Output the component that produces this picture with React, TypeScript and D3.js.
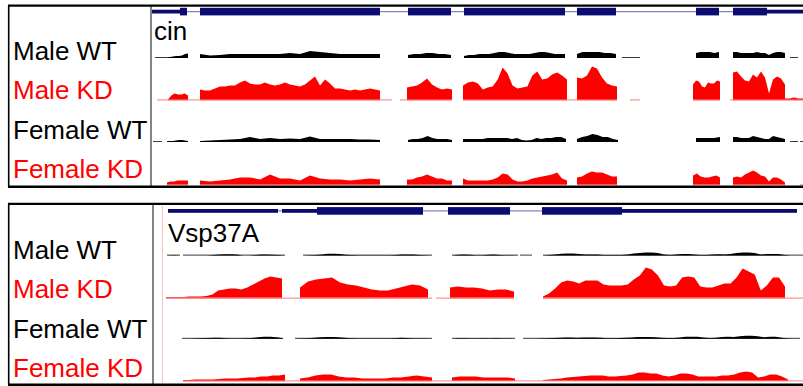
import React from 'react';
import * as d3 from 'd3';

type Seg = [number, number, number[]];
type Range = [number, number];

// ---------- labels ----------
const trackNames = ['Male WT', 'Male KD', 'Female WT', 'Female KD'];
const trackIsKD = [false, true, false, true];

// ---------- gene models (locus units) ----------
const cinSpan: Range = [152, 803];
const cinUTR: Range[] = [[152, 180], [767, 803]];
const cinExons: Range[] = [[180, 187], [200, 380], [408, 451], [464, 565], [577, 616], [696, 719], [733, 767]];

const vspSpan: Range = [168, 797];
const vspUTR: Range[] = [[168, 278], [282, 317], [622, 797]];
const vspExons: Range[] = [[317, 423], [448, 510], [542, 622]];

// ---------- cin coverage ----------
const cinMaleWT: Seg[] = [
  [155, 188, [0, 0, 0, 0, 0, 1, 1.5, 2, 2, 2.5, 4, 4.5]],
  [200, 380, [4, 2.5, 3, 4, 4, 4, 4, 4, 4, 5, 4, 7, 6, 5, 4, 4, 4, 4, 4]],
  [408, 451, [3, 4, 4, 5, 5, 4, 4, 3]],
  [464, 565, [2, 3, 3, 4, 4, 4, 5, 6, 6, 5, 4, 4, 4, 4, 5, 6, 6, 5, 4, 4, 4]],
  [577, 616, [4, 6, 6, 6, 6, 5, 5, 4]],
  [696, 719, [5, 6, 6, 6, 5, 6]],
  [733, 785, [6, 6, 5, 5, 5, 5, 6, 5, 5, 3, 5, 6, 6, 5]],
];
const cinMaleWTZero: Range[] = [[622, 640], [790, 798]];

const cinMaleKD: Seg[] = [
  [168, 188, [0, 4, 6, 5, 5, 6, 4]],
  [200, 380, [10, 9, 9, 11, 13, 13, 14, 14, 17, 19, 16, 15, 15, 17, 15, 14, 15, 17, 15, 14, 13, 15, 19, 23, 14, 20, 16, 11, 11, 10, 9, 10, 9, 10, 11, 10, 9]],
  [407, 452, [12, 13, 14, 17, 21, 15, 12, 10, 11, 10]],
  [463, 567, [14, 17, 18, 16, 10, 12, 13, 20, 32, 26, 14, 11, 12, 13, 24, 28, 20, 21, 25, 27, 24, 20]],
  [577, 617, [22, 21, 24, 33, 31, 22, 16, 14, 13]],
  [693, 720, [15, 19, 18, 13, 12, 17, 16, 16, 19, 18]],
  [733, 785, [27, 28, 23, 19, 18, 25, 22, 28, 22, 6, 20, 23, 21, 15]],
  [785, 803, [1, 1, 2, 1, 1]],
];
const cinMaleKDZero: Range[] = [[157, 392], [400, 452], [463, 617], [630, 640], [693, 720], [730, 803]];

const cinFemaleWT: Seg[] = [
  [167, 188, [0.5, 1, 1, 1.5, 2, 2, 1.5, 1]],
  [200, 380, [1, 1.5, 2, 2.5, 3, 5, 3, 4, 3, 3.5, 3, 5.5, 3, 3, 3, 3, 2.5, 2.5, 2]],
  [408, 452, [2, 3, 3, 4, 6, 4, 3, 3, 3, 2]],
  [463, 566, [3, 3, 3, 3, 3, 4, 4, 4, 4, 4, 3, 4, 2, 1.5, 2, 4, 3, 4, 4, 5, 5, 3]],
  [577, 618, [3, 5, 6, 8, 7, 5, 5, 3, 2]],
  [696, 720, [4, 4, 4, 4, 5]],
  [733, 785, [5, 5, 4, 4, 4, 6, 5, 4, 3, 3, 6, 5, 4, 3]],
];
const cinFemaleWTZero: Range[] = [[153, 162], [790, 798], [800, 803]];

const cinFemaleKD: Seg[] = [
  [167, 188, [2, 3, 3, 4, 4, 4, 4]],
  [200, 380, [4, 3, 4, 5, 7, 7, 5, 10, 6, 6, 4, 9, 6, 5, 5, 4, 5, 6, 5]],
  [407, 452, [5, 5, 7, 8, 10, 8, 6, 6, 4, 4]],
  [463, 567, [6, 4, 4, 4, 4, 4, 5, 7, 11, 10, 5, 3, 3, 4, 6, 7, 8, 9, 10, 12, 6, 4]],
  [577, 617, [7, 8, 11, 13, 12, 12, 10, 8, 8]],
  [693, 720, [9, 11, 8, 7, 7, 8, 9, 7]],
  [733, 785, [7, 8, 7, 10, 12, 14, 12, 9, 8, 3, 7, 7, 5, 2]],
];
const cinFemaleKDZero: Range[] = [[800, 803]];

// ---------- Vsp37A coverage ----------
const vspMaleWT: Seg[] = [
  [167, 180, [0, 0.3, 0.3, 0]],
  [183, 285, [0, 0, 0, 0, 0, 0.5, 1, 1.3, 1.3, 1, 0, 0, 0.5, 1, 1, 0.8, 0.5, 0]],
  [303, 432, [0, 0.3, 0.5, 1, 1.8, 1.8, 1.5, 0.8, 0.5, 0.3, 0.3, 0.3, 0.3, 0.3, 0.3, 0.5, 1, 1, 1, 0.5, 0.3, 0]],
  [452, 518, [0, 0.8, 1, 0.8, 0.3, 0.3, 0.8, 1, 0.5, 0.3, 0.3, 0]],
  [520, 532, [0, 0, 0]],
  [543, 803, [0, 0.5, 1, 1.8, 2, 2, 1.5, 1, 1, 1, 0.5, 0.5, 0.5, 0.5, 1, 2, 2.5, 3, 3, 2.5, 1, 0.5, 1, 1.5, 1.5, 1, 0.5, 0.5, 1, 1.3, 1, 1.5, 2.5, 3, 3, 2.5, 1, 1.5, 1.5, 1.5, 0.5, 0, 0, 0]],
];
const vspMaleWTZero: Range[] = [];

const vspMaleKD: Seg[] = [
  [166, 282, [0.5, 0.5, 0.5, 0.5, 1, 1, 1, 1.5, 3, 7, 8, 9, 9, 8, 10, 13, 16, 19, 21, 20, 19]],
  [300, 428, [10, 16, 18, 19, 20, 15, 13, 12, 10, 8, 7, 7, 9, 11, 13, 12, 8]],
  [450, 514, [10, 11, 10, 10, 9, 7, 8, 8, 6]],
  [543, 785, [1, 4, 9, 15, 17, 16, 14, 17, 17, 17, 13, 12, 12, 12, 13, 18, 22, 30, 28, 22, 12, 11, 12, 20, 21, 20, 11, 10, 10, 12, 14, 14, 20, 29, 26, 23, 7, 12, 20, 20, 11]],
];
const vspMaleKDZero: Range[] = [[166, 432], [436, 514], [543, 803]];

const vspFemaleWT: Seg[] = [
  [182, 283, [0, 0, 0.3, 0.5, 0.8, 1, 1, 0.5, 0.3, 0.3, 0.5, 0.8, 1.5, 2, 2, 1.5, 0.5]],
  [295, 432, [0, 0.3, 0.5, 1, 1.5, 1.8, 1.8, 1.5, 1, 0.5, 0.3, 0.3, 0.3, 0.3, 0.3, 0.3, 0.5, 1, 0.8, 0.3, 0.3, 0.3, 0]],
  [452, 515, [0, 0.5, 0.5, 0.3, 0.3, 0.5, 0.3, 0.5, 0.3, 0.3, 0]],
  [523, 800, [0, 0, 0, 0.3, 0.5, 0.8, 1, 1.3, 1.3, 1, 1.3, 1.3, 1.3, 1, 0.5, 0.5, 0.8, 1, 1.3, 1.7, 1.7, 1.7, 1.5, 1, 0.8, 0.8, 1.3, 2, 2, 2, 1.3, 0.8, 1, 1.8, 2, 1.8, 2.5, 3, 3, 2.5, 1.5, 2, 2, 1, 0.3, 0, 0]],
];
const vspFemaleWTZero: Range[] = [];

const vspFemaleKD: Seg[] = [
  [183, 285, [0.5, 0.5, 0.8, 1, 1, 1, 1.5, 2, 2, 2, 2.5, 3, 3, 4, 4, 5, 5, 6]],
  [300, 432, [2, 3, 5, 6, 6, 4, 3, 3, 2, 2, 2, 2, 3, 3, 4, 5, 4, 3]],
  [452, 515, [3, 4, 4, 4, 3, 3, 3, 3, 2]],
  [543, 788, [0.5, 1, 1.5, 2, 3, 3.5, 4, 4.5, 5, 5, 5, 4, 4, 4.5, 5, 6, 8, 8, 7, 7, 5, 4, 5, 7, 7, 6, 4, 4, 4, 4, 5, 5, 6, 8, 9, 8, 3, 4, 6, 6, 4, 1]],
];
const vspFemaleKDZero: Range[] = [[183, 452], [515, 543], [788, 803]];

// ---------- layout ----------
const W = 803;
const H = 386;
const FONT = '"Liberation Sans", Arial, Helvetica, sans-serif';

interface PanelDef {
  top: number;
  bottom: number;
  sep: number;
  geneY: number;
  geneName: string;
  geneLabel: [number, number];
  span: Range;
  utr: Range[];
  exons: Range[];
  labelBase: number[];
  trackBase: number[];
  tracks: Seg[][];
  zeros: Range[][];
  vline?: number;
}

const panels: PanelDef[] = [
  {
    top: 5.7, bottom: 186.8, sep: 151, geneY: 11.6, geneName: 'cin', geneLabel: [154, 39.5],
    span: cinSpan, utr: cinUTR, exons: cinExons,
    labelBase: [60, 99, 139, 178], trackBase: [58, 99.4, 142, 184.4],
    tracks: [cinMaleWT, cinMaleKD, cinFemaleWT, cinFemaleKD],
    zeros: [cinMaleWTZero, cinMaleKDZero, cinFemaleWTZero, cinFemaleKDZero],
  },
  {
    top: 203.9, bottom: 384.7, sep: 153, geneY: 210.9, geneName: 'Vsp37A', geneLabel: [168, 241.5],
    span: vspSpan, utr: vspUTR, exons: vspExons,
    labelBase: [259.3, 298, 338, 376.5], trackBase: [255.6, 297.6, 338.8, 380.4],
    tracks: [vspMaleWT, vspMaleKD, vspFemaleWT, vspFemaleKD],
    zeros: [vspMaleWTZero, vspMaleKDZero, vspFemaleWTZero, vspFemaleKDZero],
    vline: 162.5,
  },
];

const x = d3.scaleLinear().domain([152, 803]).range([152, 803]);

type Pt = { p: number; v: number };

function segPath(seg: Seg, y: d3.ScaleLinear<number, number>): string {
  const [s, e, vals] = seg;
  const n = vals.length;
  const pts: Pt[] = vals.map((v, i) => ({ p: s + ((e - s) * i) / (n - 1), v }));
  const full: Pt[] = [{ p: s, v: 0 }, ...pts, { p: e, v: 0 }];
  const area = d3
    .area<Pt>()
    .x((d) => x(d.p))
    .y0(y(0))
    .y1((d) => y(d.v));
  return area(full) || '';
}

function Panel({ d }: { d: PanelDef }) {
  const exonH = 7.6;
  const utrH = 3.8;
  return (
    <g>
      {/* gene model */}
      <line x1={x(d.span[0])} x2={x(d.span[1])} y1={d.geneY} y2={d.geneY} stroke="#8484c4" strokeWidth={1.2} />
      {d.utr.map((r, i) => (
        <rect key={'u' + i} x={x(r[0])} width={x(r[1]) - x(r[0])} y={d.geneY - utrH / 2} height={utrH} fill="#0b0b72" />
      ))}
      {d.exons.map((r, i) => (
        <rect key={'e' + i} x={x(r[0])} width={x(r[1]) - x(r[0])} y={d.geneY - exonH / 2} height={exonH} fill="#0b0b72" />
      ))}
      <text x={d.geneLabel[0]} y={d.geneLabel[1]} fontFamily={FONT} fontSize={26} fill="#000">
        {d.geneName}
      </text>

      {d.vline !== undefined && (
        <line x1={d.vline} x2={d.vline} y1={d.top + 2} y2={d.bottom - 1.5} stroke="#ffbcbc" strokeWidth={1} />
      )}

      {/* coverage tracks */}
      {d.tracks.map((segs, ti) => {
        const base = d.trackBase[ti];
        const y = d3.scaleLinear().domain([0, 40]).range([base, base - 40]);
        const kd = trackIsKD[ti];
        const fill = kd ? '#ff0000' : '#000000';
        const lineColor = kd ? '#ff7a7a' : '#3a3a3a';
        const lineY = kd ? base + 0.5 : base - 0.5;
        const lineRanges: Range[] = [...d.zeros[ti], ...segs.map((s) => [s[0], s[1]] as Range)];
        return (
          <g key={ti}>
            {lineRanges.map((r, i) => (
              <line key={'z' + i} x1={x(r[0])} x2={x(r[1])} y1={lineY} y2={lineY} stroke={lineColor} strokeWidth={1} />
            ))}
            {segs.map((s, i) => (
              <path key={'s' + i} d={segPath(s, y)} fill={fill} />
            ))}
          </g>
        );
      })}

      {/* labels */}
      {trackNames.map((name, i) => (
        <text key={name} x={13} y={d.labelBase[i]} fontFamily={FONT} fontSize={26} fill={trackIsKD[i] ? '#ff0000' : '#000000'}>
          {name}
        </text>
      ))}

      {/* frame */}
      <line x1={d.sep} x2={d.sep} y1={d.top} y2={d.bottom} stroke="#333" strokeWidth={1.2} />
      <line x1={8.7} x2={8.7} y1={d.top} y2={d.bottom} stroke="#000" strokeWidth={1.6} />
      <line x1={8} x2={W} y1={d.top} y2={d.top} stroke="#000" strokeWidth={2.2} />
      <line x1={8} x2={W} y1={d.bottom} y2={d.bottom} stroke="#000" strokeWidth={2.5} />
    </g>
  );
}

export default function App() {
  return (
    <svg
      width={W}
      height={H}
      viewBox={`0 0 ${W} ${H}`}
      style={{ position: 'absolute', left: 0, top: 0, background: '#fff' }}
    >
      <rect x={0} y={0} width={W} height={H} fill="#fff" />
      {panels.map((p, i) => (
        <Panel key={i} d={p} />
      ))}
    </svg>
  );
}
